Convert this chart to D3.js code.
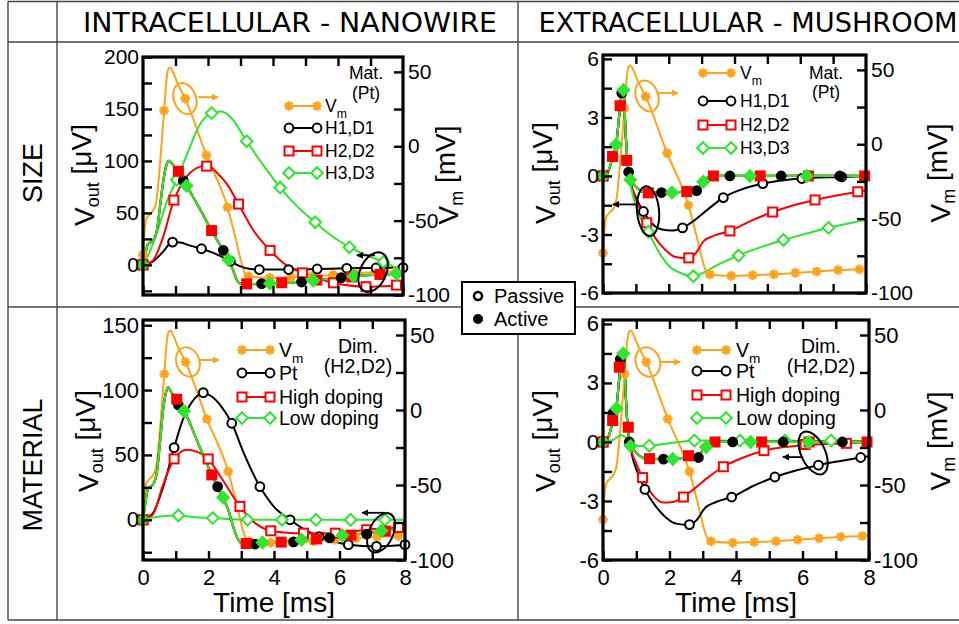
<!DOCTYPE html>
<html><head><meta charset="utf-8">
<script src="https://cdn.jsdelivr.net/npm/d3@7"></script>
<style>body{margin:0;background:#fff}svg{display:block}text{font-family:"Liberation Sans",Arial,sans-serif;fill:#000}</style>
</head><body>
<script>
// ---------------- DATA ----------------
const colLabels = ["INTRACELLULAR - NANOWIRE", "EXTRACELLULAR - MUSHROOM"];
const rowLabels = ["SIZE", "MATERIAL"];
const sizeSeries = ["H1,D1", "H2,D2", "H3,D3"];
const materialSeries = ["Pt", "High doping", "Low doping"];
const timeTickLabels = [0, 2, 4, 6, 8];
const vmTickLabels = [50, 0, -50, -100];

// membrane potential (mV), same action potential in all panels
const vmLine = [[0,-73],[0.04,-58],[0.1,-49],[0.2,-46],[0.32,-43],[0.41,-37],[0.5,-18],[0.58,4],[0.65,24],[0.72,44],[0.78,52],[0.84,53],[0.92,50],[1.05,43],[1.3,32],[1.95,-6],[2.6,-41],[2.85,-62],[3.05,-80],[3.15,-86],[3.25,-87.5],[3.9,-88.5],[4.55,-88],[5.2,-87.5],[5.85,-86.5],[6.5,-85.5],[7.15,-84.5],[7.8,-84],[8,-83.5]];
const vmMarks = [[0,-73],[0.65,24],[1.3,32],[1.95,-6],[2.6,-41],[3.25,-87.5],[3.9,-88.5],[4.55,-88],[5.2,-87.5],[5.85,-86.5],[6.5,-85.5],[7.15,-84.5],[7.8,-84]];

// ---- Panel 1: intracellular nanowire, size (uV) ----
const p1ActiveLine = [[0,0],[0.08,12],[0.15,20],[0.3,23],[0.42,32],[0.52,55],[0.62,80],[0.72,96],[0.8,100],[0.88,98],[1.0,93],[1.09,90],[1.24,81],[1.34,76],[1.8,51],[2.11,33],[2.47,14],[2.63,5],[2.76,-4],[2.88,-14],[3.0,-18],[3.3,-18.5],[3.91,-18],[4.5,-17],[5.24,-15],[5.9,-13],[6.48,-11],[7.2,-9.5],[7.81,-8.5],[8,-8]];
const p1H1Passive = [[0,0],[0.3,3],[0.6,12],[0.91,21.9],[1.15,21.5],[1.45,18.5],[1.8,15.5],[2.2,11],[2.6,5],[3.0,-1.5],[3.3,-4],[3.58,-4.5],[4.48,-4.5],[5.36,-4],[6.27,-3.3],[7.17,-3],[8,-2.6]];
const p1H1PassiveMarks = [[0,0],[0.91,21.9],[1.8,15.5],[2.69,3.5],[3.58,-4.5],[4.48,-4.5],[5.36,-4],[6.27,-3.3],[7.17,-3],[8,-2.6]];
const p1H2Passive = [[0,0],[0.3,4],[0.6,25],[0.95,62.3],[1.3,83],[1.65,93],[1.96,95.5],[2.3,88],[2.6,77],[2.94,58.5],[3.4,33],[3.91,13.9],[4.4,0],[4.91,-7.7],[5.4,-13.5],[5.86,-17.3],[6.86,-21],[7.8,-20],[8,-20]];
const p1H2PassiveMarks = [[0,0],[0.95,62.3],[1.96,95],[2.94,58.5],[3.91,13.9],[4.91,-7.7],[5.86,-17.3],[6.86,-21],[7.8,-19.5]];
const p1H3Passive = [[0,0],[0.2,12],[0.5,38],[0.75,62],[1.04,82],[1.4,110],[1.75,135],[2.11,146],[2.4,147.5],[2.7,142],[3.19,119],[3.7,96],[4.22,74.4],[4.75,56],[5.3,41],[5.8,28],[6.35,17],[6.9,9],[7.4,2.8],[8,-6]];
const p1H3PassiveMarks = [[0,0],[1.04,82],[2.11,146],[3.19,119],[4.22,74.4],[5.3,41],[6.35,17],[7.4,2.8]];
const p1H1ActiveMarks = [[0,0],[1.24,81],[2.47,14],[3.65,-18],[4.88,-16.5],[6.1,-12.3],[7.32,-9.3]];
const p1H2ActiveMarks = [[0,0],[1.09,90],[2.11,33],[3.19,-18.3],[4.27,-17.2],[5.35,-14.6],[6.42,-11.6],[7.29,-9.2]];
const p1H3ActiveMarks = [[0,0],[1.34,76],[2.63,5],[3.91,-18],[5.24,-15],[6.48,-11],[7.81,-8.5]];

// ---- Panel 2: extracellular mushroom, size (uV) ----
const p2ActiveLine = [[0,0],[0.15,0.2],[0.3,1.0],[0.4,1.6],[0.5,3.2],[0.58,4.3],[0.63,4.3],[0.68,2.5],[0.75,0.6],[0.85,-0.2],[1.0,-0.55],[1.3,-0.85],[1.8,-0.85],[2.5,-0.8],[2.85,-0.75],[3.0,-0.4],[3.2,-0.05],[3.4,0],[8,0]];
const p2H1Passive = [[0,0],[0.15,0.2],[0.3,1.0],[0.4,1.6],[0.5,3.2],[0.58,4.3],[0.63,4.3],[0.68,2.5],[0.75,0.6],[0.85,-0.4],[1.0,-1.1],[1.23,-1.82],[1.5,-2.45],[1.8,-2.75],[2.1,-2.8],[2.42,-2.66],[2.8,-2.25],[3.2,-1.7],[3.66,-1.11],[4.2,-0.7],[4.86,-0.39],[5.5,-0.22],[6.05,-0.13],[7.26,-0.05],[8,0]];
const p2H1PassiveMarks = [[0,0],[1.23,-1.82],[2.42,-2.66],[3.66,-1.11],[4.86,-0.39],[6.05,-0.13],[7.26,-0.05]];
const p2H2Passive = [[0,0],[0.15,0.2],[0.3,1.0],[0.4,1.6],[0.5,3.2],[0.58,4.3],[0.63,4.3],[0.68,2.5],[0.75,0.6],[0.88,-0.6],[1.1,-1.6],[1.33,-2.4],[1.6,-3.2],[1.9,-3.8],[2.2,-4.15],[2.61,-4.22],[2.8,-4.0],[3.07,-3.33],[3.4,-3.05],[3.86,-2.82],[4.5,-2.3],[5.16,-1.85],[5.8,-1.5],[6.45,-1.23],[7.1,-1.0],[7.75,-0.81],[8,-0.74]];
const p2H2PassiveMarks = [[0,0],[1.33,-2.4],[2.61,-4.2],[3.86,-2.82],[5.16,-1.85],[6.45,-1.23],[7.75,-0.81]];
const p2H3Passive = [[0,0],[0.15,0.2],[0.3,1.0],[0.4,1.6],[0.5,3.2],[0.58,4.3],[0.63,4.3],[0.68,2.5],[0.75,0.6],[0.88,-0.8],[1.1,-2.0],[1.38,-2.86],[1.7,-3.9],[2.0,-4.6],[2.4,-5.0],[2.75,-5.14],[3.0,-5.0],[3.5,-4.55],[4.12,-4.08],[4.8,-3.65],[5.49,-3.28],[6.2,-2.95],[6.86,-2.66],[7.5,-2.42],[8,-2.25]];
const p2H3PassiveMarks = [[0,0],[1.38,-2.86],[2.75,-5.14],[4.12,-4.08],[5.49,-3.28],[6.86,-2.66]];
const p2H1ActiveMarks = [[0,0],[0.3,1.0],[0.57,4.25],[0.78,0.2],[1.78,-0.85],[2.85,-0.75],[3.86,0],[5.42,0],[7.2,0]];
const p2H2ActiveMarks = [[0,0],[0.29,1.0],[0.52,3.6],[0.72,0.8],[1.38,-0.87],[2.55,-0.8],[3.36,0],[4.78,0],[6.25,0],[7.96,0]];
const p2H3ActiveMarks = [[0,0],[0.4,1.6],[0.62,4.4],[0.83,-0.2],[2.1,-0.85],[3.05,-0.3],[4.47,0],[6.2,0]];

// ---- Panel 3: intracellular nanowire, material (uV) ----
const p3ActiveLine = [[0,0],[0.08,14],[0.15,24],[0.3,27],[0.42,36],[0.52,60],[0.62,86],[0.7,98],[0.77,102],[0.85,99],[0.95,95],[1.03,93],[1.08,89],[1.25,83.8],[1.7,58],[2.1,34.6],[2.45,16],[2.6,8],[2.75,-5],[2.9,-15],[3.05,-18.5],[3.42,-18.7],[3.65,-17.8],[4.22,-17.2],[4.84,-15.6],[5.5,-14],[6.09,-12],[6.83,-10.5],[7.28,-8.8],[8,-6.5]];
const p3PtPassive = [[0,0],[0.3,5],[0.6,24],[0.95,55.6],[1.2,76],[1.5,91],[1.84,97.5],[2.1,95],[2.4,87],[2.71,74.4],[3.1,50],[3.57,25.6],[4.0,10],[4.49,0],[4.9,-7],[5.4,-13],[5.85,-17],[6.27,-19.2],[7.13,-20.5],[8,-19.5]];
const p3PtPassiveMarks = [[0,0],[0.95,55.6],[1.84,98],[2.71,74.4],[3.57,25.6],[4.49,0],[5.38,-13],[6.27,-19.2],[7.13,-20.5],[8,-19.2]];
const p3HighPassive = [[0,0],[0.3,4],[0.6,26],[0.95,46.9],[1.35,54],[1.7,52],[1.99,46.9],[2.4,32],[2.96,10.3],[3.4,-2],[3.9,-8.5],[4.4,-10],[4.9,-10.5],[5.87,-10.3],[6.83,-7.7],[7.8,-5.9],[8,-5.5]];
const p3HighPassiveMarks = [[0,0],[0.95,46.9],[1.99,46.9],[2.96,10.3],[3.9,-8.5],[4.9,-10.3],[5.87,-10.3],[6.83,-7.7],[7.8,-5.9]];
const p3LowPassive = [[0,0],[0.5,2.5],[1.08,3.3],[1.6,2],[2.13,1.3],[2.7,0.4],[3.19,0],[8,0]];
const p3LowPassiveMarks = [[0,0],[1.08,3.3],[2.13,1.3],[3.19,0],[4.24,0],[5.28,0],[6.34,0],[7.39,0]];
const p3PtActiveMarks = [[0,0],[1.08,88.5],[2.28,25.6],[3.42,-18.7],[4.6,-17],[5.7,-14],[6.83,-11]];
const p3HighActiveMarks = [[0,0],[1.03,93],[2.1,34.6],[3.15,-18.3],[4.22,-17.2],[5.3,-14.8],[6.35,-11.8],[7.4,-8.7]];
const p3LowActiveMarks = [[0,0],[1.25,83.8],[2.45,17.2],[3.65,-17.5],[4.84,-15.4],[6.09,-12],[7.28,-8.5]];

// ---- Panel 4: extracellular mushroom, material (uV) ----
const p4ActiveLine = [[0,0],[0.15,0.2],[0.3,1.1],[0.4,1.7],[0.5,3.4],[0.58,4.4],[0.63,4.4],[0.68,2.5],[0.75,0.6],[0.85,-0.2],[1.0,-0.55],[1.3,-0.85],[1.8,-0.87],[2.5,-0.8],[2.85,-0.75],[3.0,-0.4],[3.2,-0.05],[3.4,0],[8,0]];
const p4PtPassive = [[0,0],[0.15,0.2],[0.3,1.1],[0.4,1.7],[0.5,3.4],[0.58,4.4],[0.63,4.4],[0.68,2.5],[0.75,0.6],[0.85,-0.5],[1.05,-1.6],[1.26,-2.41],[1.6,-3.3],[1.9,-3.85],[2.2,-4.15],[2.6,-4.22],[2.8,-4.0],[3.07,-3.35],[3.4,-3.05],[3.87,-2.8],[4.5,-2.25],[5.17,-1.78],[5.8,-1.45],[6.48,-1.18],[7.1,-0.98],[7.75,-0.79],[8,-0.72]];
const p4PtPassiveMarks = [[0,0],[1.26,-2.41],[2.6,-4.2],[3.87,-2.8],[5.17,-1.78],[6.48,-1.18],[7.75,-0.79]];
const p4HighPassive = [[0,0],[0.15,0.2],[0.3,1.1],[0.4,1.7],[0.5,3.4],[0.58,4.4],[0.63,4.4],[0.68,2.5],[0.75,0.6],[0.85,-0.4],[1.0,-1.1],[1.19,-1.81],[1.5,-2.7],[1.82,-3.08],[2.1,-3.05],[2.42,-2.8],[2.8,-2.3],[3.2,-1.75],[3.62,-1.26],[4.2,-0.8],[4.84,-0.44],[5.5,-0.25],[6.08,-0.15],[7.32,-0.07],[8,0]];
const p4HighPassiveMarks = [[0,0],[1.19,-1.81],[2.42,-2.8],[3.62,-1.26],[4.84,-0.44],[6.08,-0.13],[7.32,-0.07]];
const p4LowPassive = [[0,0],[0.3,0.1],[0.55,0.35],[0.7,0.2],[0.85,-0.1],[1.1,-0.2],[1.4,-0.2],[1.8,-0.1],[2.3,0],[2.75,0.07],[8,0.05]];
const p4LowPassiveMarks = [[0,0],[1.39,-0.19],[2.75,0.07],[4.12,0.07],[5.47,0.07],[6.86,0.07]];
const p4PtActiveMarks = [[0,0],[0.3,1.45],[0.52,4.2],[0.79,0],[1.82,-0.87],[2.87,-0.79],[3.9,0],[5.42,0],[7.2,0]];
const p4HighActiveMarks = [[0,0],[0.29,1.09],[0.49,3.8],[0.76,0.75],[1.4,-0.85],[2.57,-0.7],[3.37,0],[4.77,0],[6.2,0],[7.94,0]];
const p4LowActiveMarks = [[0,0],[0.41,1.7],[0.61,4.5],[0.83,-0.2],[2.1,-0.87],[3.1,-0.26],[4.44,0],[6.18,0]];

// ---------------- STYLE ----------------
const C = {black:"#000000", red:"#ff0000", green:"#2ee62e", orange:"#ffa31a"};
const W = 959, H = 624;

const panels = [
  {x0:143, x1:403, y0:57, y1:295, left:[-29,200], leftTicks:d3.range(-25,201,25), leftLabels:[0,50,100,150,200],
   showX:false, rightTitle:true, tfs:21, lfs:17.5, leftTitleX:84, rightTitleX:448, titleY:175,
   names:sizeSeries, note:["Mat.","(Pt)"], noteX:366, noteY:[73,93],
   legX:[289,317,325], legY:[106,128,151,173],
   passive:[[p1H1Passive,p1H1PassiveMarks],[p1H2Passive,p1H2PassiveMarks],[p1H3Passive,p1H3PassiveMarks]],
   active:[[p1ActiveLine,p1H1ActiveMarks],[p1ActiveLine,p1H2ActiveMarks],[p1ActiveLine,p1H3ActiveMarks]],
   vmEll:[1.29,32,11,16], vmArrow:[1.69,2.31,33], outEll:[7.08,-7,13,21,25], outArrow:[7.14,6.58,9.2]},
  {x0:603, x1:866, y0:55, y1:293, left:[-6,6.2], leftTicks:d3.range(-6,6.01,1.5), leftLabels:[-6,-3,0,3,6],
   showX:false, rightTitle:true, tfs:21, lfs:17.5, leftTitleX:545, rightTitleX:940, titleY:173,
   names:sizeSeries, note:["Mat.","(Pt)"], noteX:826, noteY:[73,92],
   legX:[703,731,740], legY:[73,101,125,148],
   passive:[[p2H1Passive,p2H1PassiveMarks],[p2H2Passive,p2H2PassiveMarks],[p2H3Passive,p2H3PassiveMarks]],
   active:[[p2ActiveLine,p2H1ActiveMarks],[p2ActiveLine,p2H2ActiveMarks],[p2ActiveLine,p2H3ActiveMarks]],
   vmEll:[1.34,32.4,11,16], vmArrow:[1.67,2.28,34.5], outEll:[1.37,-1.8,11,25,-5], outArrow:[1.03,0.3,-1.46]},
  {x0:143, x1:405, y0:320, y1:560, left:[-31,154], leftTicks:d3.range(-25,151,25), leftLabels:[0,50,100,150],
   showX:true, rightTitle:false, tfs:22, lfs:19.5, leftTitleX:88, rightTitleX:448, titleY:441,
   names:materialSeries, note:["Dim.","(H2,D2)"], noteX:358, noteY:[346,366],
   legX:[242,270,279], legY:[350,373,397,418],
   passive:[[p3PtPassive,p3PtPassiveMarks],[p3HighPassive,p3HighPassiveMarks],[p3LowPassive,p3LowPassiveMarks]],
   active:[[p3ActiveLine,p3PtActiveMarks],[p3ActiveLine,p3HighActiveMarks],[p3ActiveLine,p3LowActiveMarks]],
   vmEll:[1.37,32,11.5,15], vmArrow:[1.74,2.32,33.3], outEll:[7.27,-10,12,21,25], outArrow:[7.39,6.69,5.4]},
  {x0:603, x1:869, y0:320, y1:560, left:[-6,6.2], leftTicks:d3.range(-6,6.01,1.5), leftLabels:[-6,-3,0,3,6],
   showX:true, rightTitle:true, tfs:22, lfs:19.5, leftTitleX:545, rightTitleX:940, titleY:441,
   names:materialSeries, note:["Dim.","(H2,D2)"], noteX:821, noteY:[346,366],
   legX:[697,726,736], legY:[350,371,395,418],
   passive:[[p4PtPassive,p4PtPassiveMarks],[p4HighPassive,p4HighPassiveMarks],[p4LowPassive,p4LowPassiveMarks]],
   active:[[p4ActiveLine,p4PtActiveMarks],[p4ActiveLine,p4HighActiveMarks],[p4ActiveLine,p4LowActiveMarks]],
   vmEll:[1.35,32,12,15], vmArrow:[1.71,2.32,32], outEll:[6.32,-0.56,12,23,-25], outArrow:[6.02,5.41,-0.77]}
];
const seriesColors = [C.black, C.red, C.green];
const seriesShapes = ["circle","square","diamond"];

// ---------------- DRAW ----------------
const svg = d3.select("body").append("svg").attr("width", W).attr("height", H);
const defs = svg.append("defs");
function arrowDef(id, color){
  defs.append("marker").attr("id", id).attr("viewBox","0 0 10 10").attr("refX",9).attr("refY",5)
    .attr("markerWidth",7).attr("markerHeight",7).attr("markerUnits","userSpaceOnUse").attr("orient","auto")
    .append("path").attr("d","M0,0L10,5L0,10Z").attr("fill", color);
}
arrowDef("arrK", C.black); arrowDef("arrO", C.orange);

// table grid
const grid = svg.append("g").attr("stroke","#444").attr("stroke-width",1.4);
[1.5, 42, 307, 620].forEach(y => grid.append("line").attr("x1",8).attr("x2",W).attr("y1",y).attr("y2",y));
[8, 57, 518].forEach(x => grid.append("line").attr("x1",x).attr("x2",x).attr("y1",1.5).attr("y2",620));

// headers
[[290, colLabels[0], 414],[748, colLabels[1], 419]].forEach(([cx, t, len]) => {
  svg.append("text").attr("x", cx).attr("y", 32).attr("text-anchor","middle")
    .style("font-family",'"Liberation Sans Narrow","DejaVu Sans Condensed",sans-serif').style("font-size","27px")
    .attr("textLength", len).attr("lengthAdjust","spacingAndGlyphs").text(t);
});
[[173, rowLabels[0]],[465, rowLabels[1]]].forEach(([cy, t]) => {
  svg.append("text").attr("transform",`translate(42,${cy}) rotate(-90)`).attr("text-anchor","middle")
    .style("font-size","27px").text(t);
});

function drawMarker(g, shape, cx, cy, color, filled){
  const fill = filled ? color : "#fff";
  if (shape === "circle") g.append("circle").attr("cx",cx).attr("cy",cy).attr("r",4.4).attr("fill",fill).attr("stroke",color).attr("stroke-width",2);
  else if (shape === "square") g.append("rect").attr("x",cx-4.5).attr("y",cy-4.5).attr("width",9).attr("height",9).attr("fill",fill).attr("stroke",color).attr("stroke-width",2);
  else if (shape === "diamond") g.append("path").attr("d",`M${cx},${cy-5.8}L${cx+5.8},${cy}L${cx},${cy+5.8}L${cx-5.8},${cy}Z`).attr("fill",fill).attr("stroke",color).attr("stroke-width",2);
  else if (shape === "asterisk") {
    let d = "";
    for (let k = 0; k < 4; k++) { const a = k*Math.PI/4, r = 4.8; d += `M${cx-r*Math.cos(a)},${cy-r*Math.sin(a)}L${cx+r*Math.cos(a)},${cy+r*Math.sin(a)}`; }
    g.append("path").attr("d", d).attr("stroke", color).attr("stroke-width", 2.6).attr("fill","none");
  }
}

panels.forEach((p, pi) => {
  const g = svg.append("g");
  const x = d3.scaleLinear().domain([0, 8]).range([p.x0, p.x1]);
  const yL = d3.scaleLinear().domain(p.left).range([p.y1, p.y0]);
  const yR = d3.scaleLinear().domain([-100, 60]).range([p.y1, p.y0]);
  const clipId = "clip" + pi;
  defs.append("clipPath").attr("id", clipId).append("rect").attr("x", p.x0).attr("y", p.y0).attr("width", p.x1 - p.x0).attr("height", p.y1 - p.y0);

  const lineGen = ys => d3.line().x(d => x(d[0])).y(d => ys(d[1])).curve(d3.curveMonotoneX);
  const lines = g.append("g").attr("clip-path", `url(#${clipId})`);
  const marks = g.append("g");

  // Vm (right axis)
  lines.append("path").attr("d", lineGen(yR)(vmLine)).attr("fill","none").attr("stroke",C.orange).attr("stroke-width",2);
  vmMarks.forEach(d => drawMarker(marks, "asterisk", x(d[0]), yR(d[1]), C.orange, true));

  // passive (open markers)
  p.passive.forEach(([ln, mk], i) => {
    lines.append("path").attr("d", lineGen(yL)(ln)).attr("fill","none").attr("stroke",seriesColors[i]).attr("stroke-width",2);
  });
  p.passive.forEach(([ln, mk], i) => mk.forEach(d => drawMarker(marks, seriesShapes[i], x(d[0]), yL(d[1]), seriesColors[i], false)));
  // active (filled markers)
  p.active.forEach(([ln, mk], i) => {
    lines.append("path").attr("d", lineGen(yL)(ln)).attr("fill","none").attr("stroke",seriesColors[i]).attr("stroke-width",2.2);
  });
  p.active.forEach(([ln, mk], i) => mk.forEach(d => drawMarker(marks, seriesShapes[i], x(d[0]), yL(d[1]), seriesColors[i], true)));

  // axes
  const axG = g.append("g");
  const fmtL = d => p.leftLabels.includes(d) ? String(d) : "";
  axG.append("g").attr("transform", `translate(${p.x0},0)`)
    .call(d3.axisLeft(yL).tickValues(p.leftTicks).tickSize(-9).tickPadding(4).tickFormat(fmtL));
  axG.append("g").attr("transform", `translate(${p.x1},0)`)
    .call(d3.axisRight(yR).tickValues(d3.range(-100, 51, 25)).tickSize(-9).tickPadding(5).tickFormat(d => vmTickLabels.includes(d) ? String(d) : ""));
  axG.append("g").attr("transform", `translate(0,${p.y1})`)
    .call(d3.axisBottom(x).tickValues(d3.range(0, 9, 1)).tickSize(-9).tickPadding(9).tickFormat(d => p.showX && timeTickLabels.includes(d) ? String(d) : ""));
  axG.append("g").attr("transform", `translate(0,${p.y0})`)
    .call(d3.axisTop(x).tickValues(d3.range(1, 8, 1)).tickSize(-9).tickFormat(""));
  axG.selectAll(".domain").remove();
  axG.selectAll(".tick line").attr("stroke","#000").attr("stroke-width",2.4);
  axG.selectAll(".tick text").style("font-size", p.tfs + "px").style("font-family",'"Liberation Sans",Arial,sans-serif').attr("fill","#000");
  axG.append("rect").attr("x", p.x0).attr("y", p.y0).attr("width", p.x1 - p.x0).attr("height", p.y1 - p.y0)
    .attr("fill","none").attr("stroke","#000").attr("stroke-width",3.2);

  // axis titles
  const lt = g.append("text").attr("transform", `translate(${p.leftTitleX},${p.titleY}) rotate(-90)`).attr("text-anchor","middle").attr("dy","0.35em").style("font-size","28px");
  lt.append("tspan").text("V");
  lt.append("tspan").attr("dy","0.3em").style("font-size","18px").text("out");
  lt.append("tspan").attr("dy","-0.3em").text(" [\u03bcV]");
  if (p.rightTitle) {
    const rt = g.append("text").attr("transform", `translate(${p.rightTitleX},${p.titleY}) rotate(-90)`).attr("text-anchor","middle").attr("dy","0.35em").style("font-size","28px");
    rt.append("tspan").text("V");
    rt.append("tspan").attr("dy","0.3em").style("font-size","18px").text("m");
    rt.append("tspan").attr("dy","-0.3em").text(" [mV]");
  }
  if (p.showX) {
    g.append("text").attr("x", (p.x0 + p.x1) / 2).attr("y", p.y1 + 52).attr("text-anchor","middle").style("font-size","28px").text("Time [ms]");
  }

  // legend
  const leg = g.append("g");
  const legItems = [["V", C.orange, "asterisk"]].concat(p.names.map((n, i) => [n, seriesColors[i], seriesShapes[i]]));
  legItems.forEach(([name, col, shape], i) => {
    const yy = p.legY[i];
    leg.append("line").attr("x1", p.legX[0]).attr("x2", p.legX[1]).attr("y1", yy).attr("y2", yy).attr("stroke", col).attr("stroke-width", 2);
    drawMarker(leg, shape, p.legX[0], yy, col, false);
    drawMarker(leg, shape, p.legX[1], yy, col, false);
    const t = leg.append("text").attr("x", p.legX[2]).attr("y", yy).attr("dy","0.36em").style("font-size", p.lfs + "px");
    if (i === 0) { t.append("tspan").text("V"); t.append("tspan").attr("dy","0.45em").style("font-size", (p.lfs*0.7) + "px").text("m"); }
    else t.text(name);
  });
  p.note.forEach((s, i) => leg.append("text").attr("x", p.noteX).attr("y", p.noteY[i]).attr("dy","0.36em").attr("text-anchor","middle").style("font-size", p.lfs + "px").text(s));

  // annotations: ellipses + arrows
  const ve = p.vmEll;
  g.append("ellipse").attr("transform", `translate(${x(ve[0])},${yR(ve[1])}) rotate(-20)`).attr("rx", ve[2]).attr("ry", ve[3])
    .attr("fill","none").attr("stroke", C.orange).attr("stroke-width", 2);
  g.append("line").attr("x1", x(p.vmArrow[0])).attr("x2", x(p.vmArrow[1])).attr("y1", yR(p.vmArrow[2])).attr("y2", yR(p.vmArrow[2]))
    .attr("stroke", C.orange).attr("stroke-width", 2).attr("marker-end","url(#arrO)");
  const oe = p.outEll;
  g.append("ellipse").attr("transform", `translate(${x(oe[0])},${yL(oe[1])}) rotate(${oe[4]})`).attr("rx", oe[2]).attr("ry", oe[3])
    .attr("fill","none").attr("stroke", C.black).attr("stroke-width", 2);
  g.append("line").attr("x1", x(p.outArrow[0])).attr("x2", x(p.outArrow[1])).attr("y1", yL(p.outArrow[2])).attr("y2", yL(p.outArrow[2]))
    .attr("stroke", C.black).attr("stroke-width", 1.8).attr("marker-end","url(#arrK)");
});

// Passive / Active key
const key = svg.append("g");
key.append("rect").attr("x", 462).attr("y", 282).attr("width", 113).attr("height", 52).attr("fill","#fff").attr("stroke","#000").attr("stroke-width",2);
key.append("circle").attr("cx", 478).attr("cy", 296).attr("r", 4).attr("fill","#fff").attr("stroke","#000").attr("stroke-width",2.5);
key.append("circle").attr("cx", 478).attr("cy", 319).attr("r", 5).attr("fill","#000");
key.append("text").attr("x", 494).attr("y", 296).attr("dy","0.36em").style("font-size","20px").text("Passive");
key.append("text").attr("x", 494).attr("y", 319).attr("dy","0.36em").style("font-size","20px").text("Active");
</script>
</body></html>
